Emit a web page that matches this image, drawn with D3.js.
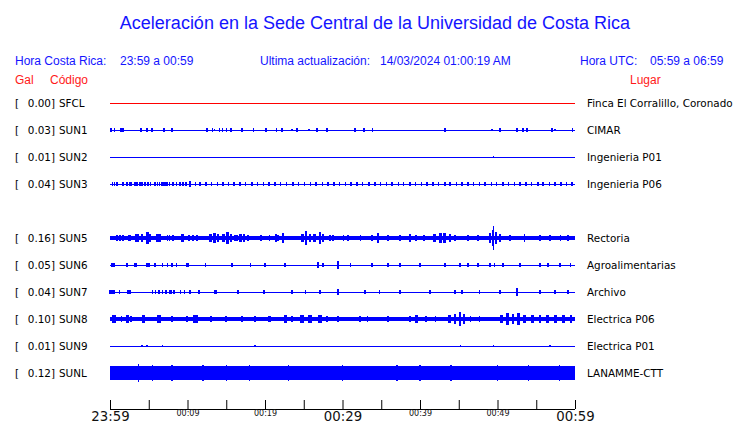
<!DOCTYPE html>
<html><head><meta charset="utf-8">
<script src="https://cdn.jsdelivr.net/npm/d3@7"></script>
<style>body{margin:0;background:#fff}svg{display:block}</style>
</head><body>
<svg id="c" width="740" height="423"></svg>
<script>
// ---------- data ----------
const slotCodes = ["SFCL","SUN1","SUN2","SUN3","SUN4","SUN5","SUN6","SUN7","SUN8","SUN9","SUNL"];
const codes  = ["SFCL","SUN1","SUN2","SUN3","SUN5","SUN6","SUN7","SUN8","SUN9","SUNL"];
const peakGal = [0.00,0.03,0.01,0.04,0.16,0.05,0.04,0.10,0.01,0.12];
const places = ["Finca El Corralillo, Coronado","CIMAR","Ingenieria P01","Ingenieria P06","Rectoria","Agroalimentarias","Archivo","Electrica P06","Electrica P01","LANAMME-CTT"];
const noiseGal = [0.004,0.004,0.004,0.004,0.028,0.004,0.004,0.03,0.004,0.087];
// bursts: [minute after 23:59, half amplitude (Gal), duration (min)]
const burstsSFCL = [];
const burstsSUN1 = [[0.1,0.02,0.1],[0.6,0.02,0.1],[1.4,0.022,0.2],[1.7,0.022,0.2],[4.0,0.02,0.1],[4.8,0.022,0.2],[5.4,0.02,0.1],[7.0,0.03,0.3],[8.0,0.02,0.1],[12.5,0.02,0.1],[13.2,0.02,0.1],[13.5,0.018,0.1],[14.1,0.02,0.1],[14.5,0.02,0.1],[15.0,0.02,0.1],[15.6,0.03,0.3],[17.0,0.02,0.1],[18.5,0.02,0.1],[20.1,0.02,0.1],[21.5,0.02,0.1],[22.2,0.02,0.1],[23.5,0.018,0.1],[24.1,0.02,0.1],[25.7,0.018,0.1],[26.7,0.03,0.3],[28.0,0.02,0.1],[31.6,0.02,0.1],[32.8,0.02,0.1],[33.9,0.02,0.1],[43.2,0.02,0.1],[49.3,0.018,0.1],[50.3,0.03,0.3],[52.5,0.02,0.1],[53.3,0.02,0.1],[53.8,0.02,0.1],[57.0,0.02,0.1],[57.4,0.018,0.1],[59.7,0.02,0.1]];
const burstsSUN2 = [[49.5,0.015,0.1]];
const burstsSUN3 = [[0.3,0.02,0.1],[0.6,0.025,0.1],[0.9,0.02,0.1],[1.7,0.02,0.1],[2.2,0.02,0.1],[2.6,0.025,0.1],[2.8,0.02,0.1],[3.2,0.02,0.1],[3.5,0.025,0.1],[3.9,0.02,0.1],[4.1,0.02,0.1],[4.5,0.025,0.1],[4.9,0.02,0.1],[5.2,0.02,0.1],[5.8,0.025,0.1],[6.1,0.025,0.1],[6.4,0.028,0.2],[6.7,0.028,0.2],[7.0,0.028,0.2],[7.2,0.025,0.1],[7.4,0.028,0.1],[7.7,0.02,0.1],[8.1,0.025,0.1],[8.6,0.02,0.1],[9.0,0.025,0.1],[9.4,0.02,0.1],[9.8,0.025,0.1],[10.3,0.035,0.1],[11.0,0.02,0.1],[11.6,0.025,0.1],[12.4,0.02,0.1],[13.1,0.025,0.1],[13.9,0.02,0.1],[14.6,0.025,0.1],[15.3,0.02,0.1],[16.0,0.025,0.1],[16.8,0.02,0.1],[17.5,0.025,0.1],[18.3,0.02,0.1],[19.0,0.025,0.1],[19.8,0.02,0.1],[20.5,0.025,0.1],[21.3,0.02,0.1],[22.0,0.025,0.1],[22.8,0.02,0.1],[23.6,0.025,0.1],[24.3,0.02,0.1],[25.1,0.025,0.1],[25.9,0.02,0.1],[26.6,0.025,0.1],[27.4,0.025,0.1],[28.1,0.02,0.1],[28.9,0.025,0.1],[29.6,0.025,0.1],[30.4,0.02,0.1],[31.1,0.025,0.1],[31.9,0.02,0.1],[32.6,0.025,0.1],[33.4,0.02,0.1],[34.2,0.025,0.1],[34.9,0.025,0.1],[35.7,0.02,0.1],[36.4,0.025,0.1],[37.2,0.02,0.1],[37.9,0.025,0.1],[38.7,0.02,0.1],[39.4,0.025,0.1],[40.2,0.025,0.1],[40.9,0.02,0.1],[41.7,0.025,0.1],[42.4,0.02,0.1],[43.2,0.025,0.1],[43.9,0.02,0.1],[44.7,0.025,0.1],[45.4,0.025,0.1],[46.2,0.02,0.1],[46.9,0.025,0.1],[47.7,0.02,0.1],[48.4,0.025,0.1],[49.2,0.02,0.1],[49.9,0.025,0.1],[50.7,0.02,0.1],[51.4,0.025,0.1],[52.2,0.02,0.1],[52.9,0.025,0.1],[53.7,0.02,0.1],[54.4,0.025,0.1],[55.2,0.02,0.1],[55.9,0.025,0.1],[56.7,0.02,0.1],[57.4,0.025,0.1],[58.2,0.02,0.1],[58.9,0.025,0.1],[59.6,0.02,0.1]];
const burstsSUN5 = [[0.9,0.04,0.1],[1.3,0.04,0.1],[1.7,0.035,0.1],[2.5,0.04,0.3],[3.5,0.05,0.6],[4.1,0.045,0.2],[4.8,0.075,0.4],[5.1,0.05,0.3],[6.1,0.05,0.3],[6.4,0.045,0.3],[7.4,0.035,0.1],[7.7,0.035,0.1],[8.1,0.035,0.1],[9.4,0.05,0.4],[10.2,0.035,0.1],[10.7,0.035,0.1],[11.2,0.035,0.1],[13.0,0.05,0.4],[13.5,0.065,0.3],[13.9,0.045,0.3],[14.6,0.055,0.4],[15.2,0.075,0.4],[15.6,0.055,0.3],[16.1,0.04,0.1],[16.4,0.04,0.1],[16.8,0.05,0.4],[17.3,0.045,0.2],[17.8,0.04,0.1],[19.5,0.04,0.1],[20.6,0.04,0.1],[21.4,0.05,0.2],[21.7,0.04,0.1],[22.3,0.065,0.2],[24.8,0.05,0.4],[25.3,0.085,0.3],[25.8,0.05,0.3],[26.4,0.05,0.3],[27.1,0.07,0.3],[27.5,0.045,0.2],[28.4,0.04,0.2],[28.8,0.04,0.2],[30.1,0.035,0.1],[30.7,0.035,0.1],[32.3,0.035,0.1],[33.8,0.04,0.2],[34.6,0.06,0.3],[35.9,0.035,0.1],[37.4,0.035,0.1],[38.7,0.045,0.3],[39.5,0.035,0.1],[40.5,0.035,0.1],[41.9,0.05,0.4],[42.6,0.065,0.4],[43.2,0.06,0.4],[43.9,0.045,0.3],[44.5,0.035,0.1],[46.2,0.04,0.2],[47.5,0.035,0.1],[49.0,0.06,0.2],[49.4,0.1,0.25],[49.5,0.15,0.15],[49.8,0.07,0.2],[50.3,0.05,0.2],[51.6,0.035,0.1],[53.5,0.05,0.2],[55.5,0.04,0.1],[56.8,0.04,0.1],[58.1,0.035,0.1],[59.1,0.035,0.1]];
const burstsSUN6 = [[0.4,0.03,0.5],[2.2,0.025,0.1],[3.3,0.03,0.4],[4.8,0.025,0.1],[5.0,0.025,0.1],[5.8,0.025,0.1],[6.8,0.025,0.1],[7.4,0.025,0.1],[8.0,0.03,0.3],[8.6,0.025,0.1],[10.0,0.03,0.4],[12.3,0.025,0.1],[15.7,0.03,0.3],[18.1,0.025,0.1],[20.0,0.025,0.1],[22.6,0.03,0.3],[26.8,0.035,0.3],[27.5,0.03,0.2],[29.4,0.045,0.2],[31.0,0.025,0.1],[33.8,0.025,0.1],[35.9,0.03,0.3],[37.4,0.025,0.1],[40.0,0.03,0.3],[43.2,0.025,0.1],[45.2,0.03,0.3],[46.2,0.025,0.1],[47.5,0.025,0.1],[49.0,0.03,0.3],[49.6,0.025,0.1],[50.7,0.03,0.3],[52.9,0.025,0.1],[55.5,0.03,0.3],[56.5,0.025,0.1],[58.1,0.03,0.3],[59.4,0.025,0.1]];
const burstsSUN7 = [[0.3,0.03,0.8],[1.2,0.025,0.2],[2.5,0.03,0.5],[5.5,0.02,0.1],[5.9,0.02,0.1],[6.3,0.025,0.3],[6.8,0.02,0.1],[7.2,0.025,0.2],[7.8,0.025,0.3],[8.3,0.025,0.3],[9.1,0.025,0.2],[9.6,0.02,0.1],[10.3,0.025,0.3],[11.5,0.02,0.1],[13.6,0.03,0.3],[16.5,0.02,0.1],[19.9,0.025,0.2],[23.5,0.02,0.1],[25.2,0.025,0.2],[27.1,0.025,0.2],[29.4,0.035,0.3],[32.9,0.02,0.1],[34.8,0.025,0.2],[37.4,0.02,0.1],[41.3,0.025,0.2],[44.5,0.02,0.1],[45.4,0.025,0.2],[47.7,0.02,0.1],[50.3,0.025,0.2],[52.5,0.045,0.3],[55.5,0.025,0.2],[57.4,0.02,0.1],[59.1,0.025,0.2]];
const burstsSUN8 = [[0.5,0.045,0.6],[1.5,0.04,0.2],[2.3,0.045,0.4],[2.7,0.04,0.2],[4.3,0.045,0.4],[6.3,0.045,0.6],[8.0,0.04,0.1],[9.9,0.04,0.3],[11.0,0.045,0.6],[13.0,0.04,0.3],[15.0,0.04,0.2],[17.0,0.04,0.3],[18.7,0.04,0.2],[20.6,0.04,0.3],[22.6,0.045,0.4],[23.5,0.04,0.3],[24.8,0.045,0.5],[25.8,0.05,0.5],[27.1,0.045,0.4],[28.0,0.04,0.3],[29.4,0.04,0.2],[32.3,0.04,0.3],[33.2,0.04,0.2],[35.9,0.04,0.2],[38.7,0.04,0.3],[39.6,0.045,0.4],[40.8,0.04,0.3],[42.0,0.04,0.2],[43.8,0.05,0.4],[44.5,0.06,0.3],[45.2,0.085,0.3],[45.7,0.06,0.3],[46.5,0.04,0.2],[47.7,0.04,0.2],[50.5,0.045,0.4],[51.3,0.07,0.3],[52.0,0.06,0.3],[52.7,0.075,0.3],[53.5,0.05,0.4],[54.5,0.045,0.4],[55.5,0.05,0.3],[56.5,0.045,0.4],[57.5,0.05,0.3],[58.5,0.045,0.4],[59.5,0.045,0.3]];
const burstsSUN9 = [[4.1,0.012,0.1],[4.8,0.015,0.1],[6.8,0.012,0.1],[18.7,0.012,0.1],[45.2,0.018,0.1],[49.5,0.015,0.1],[56.8,0.012,0.1]];
const burstsSUNL = [[3.7,0.105,0.1],[5.5,0.1,0.1],[8.0,0.1,0.1],[12.0,0.1,0.1],[15.0,0.1,0.1],[18.0,0.098,0.1],[23.0,0.1,0.1],[30.0,0.1,0.1],[37.0,0.1,0.1],[40.0,0.1,0.1],[44.0,0.1,0.1],[50.0,0.098,0.1],[54.0,0.1,0.1],[58.0,0.1,0.1]];
const bursts = [burstsSFCL,burstsSUN1,burstsSUN2,burstsSUN3,burstsSUN5,burstsSUN6,burstsSUN7,burstsSUN8,burstsSUN9,burstsSUNL];
const traceColors = ["#ff0000","#0000ff","#0000ff","#0000ff","#0000ff","#0000ff","#0000ff","#0000ff","#0000ff","#0000ff"];
const tickMinutes = d3.range(0, 61, 5);
const tickLabels = {0:"23:59",10:"00:09",20:"00:19",30:"00:29",40:"00:39",50:"00:49",60:"00:59"};
const majorTicks = [0,30,60];

// ---------- drawing ----------
const svg = d3.select("#c");
const BLUE = "#1414ff", RED = "#ff1a1a";
const sans = "'Liberation Sans', Arial, sans-serif";
const dv = "'DejaVu Sans', sans-serif";

const x = d3.scaleLinear().domain([0,60]).range([110,575]);
const y = d3.scalePoint().domain(slotCodes).range([103,373]);
const amp = d3.scaleLinear().domain([0,0.16]).range([0,13]);

svg.append("text").attr("x",375).attr("y",29).attr("text-anchor","middle")
  .attr("font-family",sans).attr("font-size",18).attr("fill",BLUE)
  .text("Aceleración en la Sede Central de la Universidad de Costa Rica");

const hdr = [
  [15,65,"Hora Costa Rica:",BLUE],[120,65,"23:59 a 00:59",BLUE],
  [260,65,"Ultima actualización:",BLUE],[380,65,"14/03/2024 01:00:19 AM",BLUE],
  [580,65,"Hora UTC:",BLUE],[650,65,"05:59 a 06:59",BLUE],
  [15,84,"Gal",RED],[50,84,"Código",RED],[630,84,"Lugar",RED]];
svg.selectAll("text.h").data(hdr).join("text").attr("class","h")
  .attr("x",d=>d[0]).attr("y",d=>d[1]).attr("fill",d=>d[3])
  .attr("font-family",sans).attr("font-size",12).text(d=>d[2]);

const rows = codes.map((c,i)=>({code:c,peak:peakGal[i],place:places[i],noise:noiseGal[i],bursts:bursts[i],color:traceColors[i]}));
const g = svg.selectAll("g.row").data(rows).join("g").attr("class","row");
g.append("text").attr("x",15).attr("y",d=>y(d.code)+4).attr("font-family",dv).attr("font-size",10.4).text("[");
g.append("text").attr("x",55).attr("y",d=>y(d.code)+4).attr("text-anchor","end").attr("font-family",dv).attr("font-size",10.4).text(d=>d.peak.toFixed(2)+"]");
g.append("text").attr("x",59).attr("y",d=>y(d.code)+4).attr("font-family",dv).attr("font-size",10.4).text(d=>d.code);
g.append("text").attr("x",587).attr("y",d=>y(d.code)+4).attr("font-family",dv).attr("font-size",10.4).text(d=>d.place);

g.append("rect").attr("shape-rendering","crispEdges")
  .attr("x",x(0)).attr("width",x(60)-x(0))
  .attr("y",d=>{const h=Math.max(1,2*amp(d.noise));return y(d.code)-h/2;})
  .attr("height",d=>Math.max(1,2*amp(d.noise)))
  .attr("fill",d=>d.color);
g.each(function(d){
  d3.select(this).selectAll("rect.b").data(d.bursts).join("rect").attr("class","b")
    .attr("shape-rendering","crispEdges")
    .attr("x",b=>{const w=Math.max(1.5,x(b[2])-x(0));return x(b[0])-w/2;})
    .attr("width",b=>Math.max(1.5,x(b[2])-x(0)))
    .attr("y",b=>y(d.code)-amp(b[1]))
    .attr("height",b=>2*amp(b[1]))
    .attr("fill",d.color);
});

// axis
const axis = d3.axisBottom(x).tickValues(tickMinutes).tickSize(-9).tickPadding(0)
  .tickFormat(m=>tickLabels[m]||"");
const ax = svg.append("g").attr("transform","translate(0,409)").call(axis);
ax.select(".domain").attr("stroke","#000").attr("d",`M${x(0)},0.5H${x(60)}`);
ax.selectAll(".tick line").attr("stroke","#000");
ax.selectAll(".tick text").attr("font-family",dv).attr("fill","#111")
  .attr("dy",null)
  .attr("y",m=>majorTicks.includes(m)?12:7)
  .attr("font-size",m=>majorTicks.includes(m)?13.3:8);
</script>
</body></html>
